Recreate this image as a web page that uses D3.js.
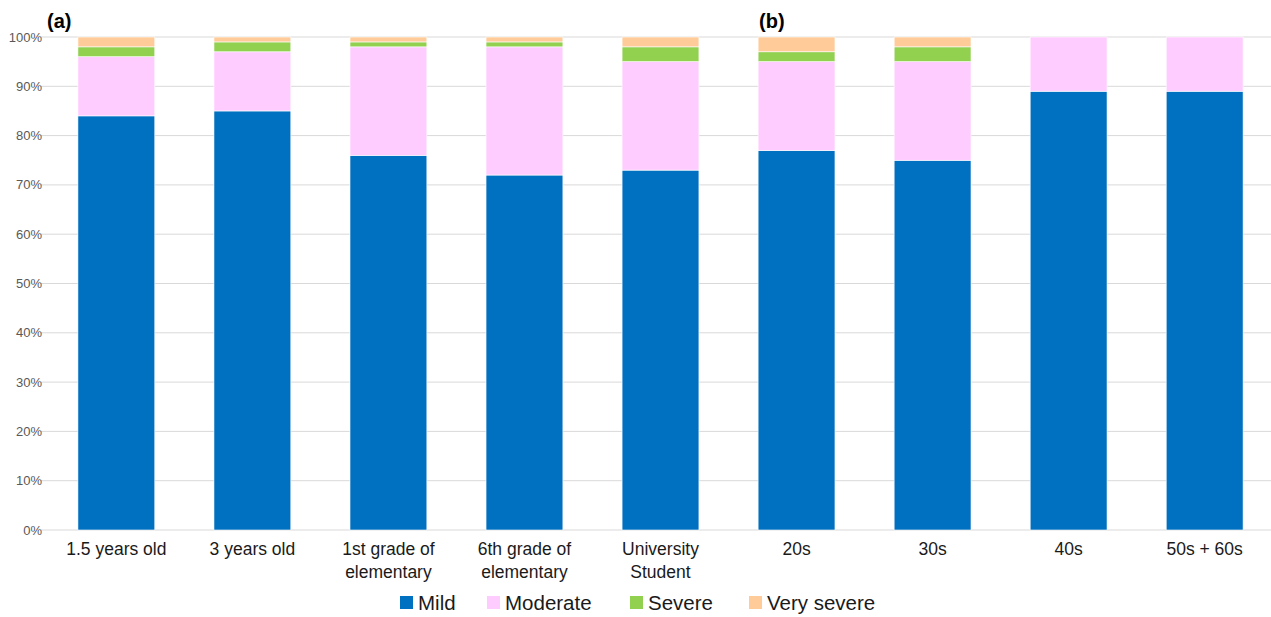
<!DOCTYPE html>
<html>
<head>
<meta charset="UTF-8">
<script src="https://cdn.jsdelivr.net/npm/d3@7"></script>
<style>
  body { margin: 0; background: #fff; }
  svg { font-family: "Liberation Sans", Arial, sans-serif; }
</style>
</head>
<body>
<svg id="chart" width="1271" height="617"></svg>
<script>
// categories (line breaks kept as in the picture)
const categories = [
  ["1.5 years old"], ["3 years old"], ["1st grade of", "elementary"],
  ["6th grade of", "elementary"], ["University", "Student"],
  ["20s"], ["30s"], ["40s"], ["50s + 60s"]
];
const seriesNames = ["Mild", "Moderate", "Severe", "Very severe"];
const mild       = [84, 85, 76, 72, 73, 77, 75, 89, 89];
const moderate   = [12, 12, 22, 26, 22, 18, 20, 11, 11];
const severe     = [2, 2, 1, 1, 3, 2, 3, 0, 0];
const verySevere = [2, 1, 1, 1, 2, 3, 2, 0, 0];
const colors = ["#0070C0", "#FFCCFF", "#92D050", "#FFCC99"];
const yTicks = [0, 10, 20, 30, 40, 50, 60, 70, 80, 90, 100];

const svg = d3.select("#chart");
const plotLeft = 48, plotRight = 1273, plotTop = 37, plotBottom = 530;

const x = d3.scaleBand().domain(d3.range(categories.length)).range([plotLeft, plotRight]).paddingInner(0.435).paddingOuter(0.22);
const y = d3.scaleLinear().domain([0, 100]).range([plotBottom, plotTop]);

// gridlines
svg.append("g").selectAll("line").data(yTicks).enter().append("line")
  .attr("x1", 40).attr("x2", 1271)
  .attr("y1", d => y(d)).attr("y2", d => y(d))
  .attr("stroke", "#d9d9d9").attr("stroke-width", 1);

// y tick labels
svg.append("g").selectAll("text").data(yTicks).enter().append("text")
  .attr("x", 42).attr("y", d => y(d) + 4.5)
  .attr("text-anchor", "end").attr("font-size", 13).attr("fill", "#595959")
  .text(d => d + "%");

// stack data
const rows = categories.map((c, i) => ({
  i, Mild: mild[i], Moderate: moderate[i], Severe: severe[i], "Very severe": verySevere[i]
}));
const stacked = d3.stack().keys(seriesNames)(rows);

svg.append("g").selectAll("g").data(stacked).enter().append("g")
  .attr("fill", (d, k) => colors[k])
  .selectAll("rect").data(d => d.filter(s => s[1] - s[0] > 0)).enter().append("rect")
  .attr("x", d => x(d.data.i))
  .attr("width", x.bandwidth())
  .attr("y", d => y(d[1]))
  .attr("height", d => y(d[0]) - y(d[1]))
  .attr("stroke", "#fff").attr("stroke-width", 0.6);

// x labels
const xl = svg.append("g").selectAll("text").data(categories).enter().append("text")
  .attr("text-anchor", "middle").attr("font-size", 17.5).attr("fill", "#1a1a1a")
  .attr("x", (d, i) => x(i) + x.bandwidth() / 2)
  .attr("y", 555);
xl.selectAll("tspan").data(d => d).enter().append("tspan")
  .attr("x", function () { return d3.select(this.parentNode).attr("x"); })
  .attr("dy", (d, j) => j === 0 ? 0 : 23)
  .text(d => d);

// panel labels
svg.append("text").attr("x", 47).attr("y", 28).attr("font-size", 20).attr("font-weight", "bold").attr("fill", "#000").text("(a)");
svg.append("text").attr("x", 759).attr("y", 28).attr("font-size", 20).attr("font-weight", "bold").attr("fill", "#000").text("(b)");

// legend
const legendX = [400, 487, 630, 749];
const lg = svg.append("g").selectAll("g").data(seriesNames).enter().append("g")
  .attr("transform", (d, k) => `translate(${legendX[k]},596)`);
lg.append("rect").attr("width", 13).attr("height", 13).attr("fill", (d, k) => colors[k]);
lg.append("text").attr("x", 18).attr("y", 14).attr("font-size", 20.5).attr("fill", "#1a1a1a").text(d => d);
</script>
</body>
</html>
